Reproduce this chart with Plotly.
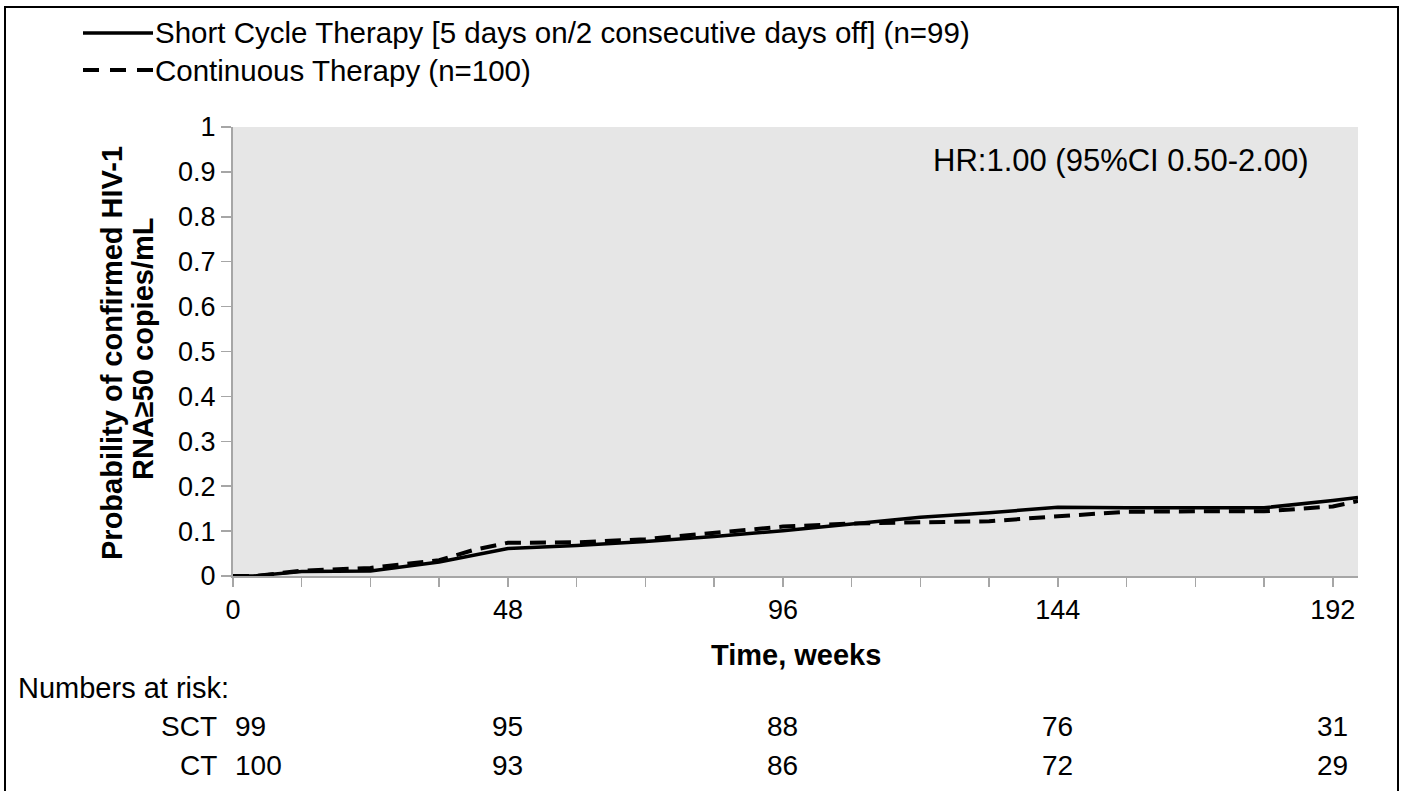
import plotly.graph_objects as go

# ---------------- data ----------------
sct_weeks = [0, 3.5, 12, 24, 36, 48, 60, 72, 84, 96, 108, 120, 132, 144, 156, 168, 180, 192, 196.4]
sct_prob = [0, 0, 0.010, 0.011, 0.031, 0.061, 0.068, 0.077, 0.088, 0.101, 0.116, 0.131, 0.141, 0.153, 0.152, 0.152, 0.152, 0.168, 0.175]

ct_weeks = [0, 4, 12, 24, 36, 42, 48, 60, 72, 84, 96, 108, 120, 132, 144, 156, 168, 180, 192, 196.4]
ct_prob = [0, 0, 0.012, 0.018, 0.035, 0.058, 0.074, 0.075, 0.082, 0.097, 0.110, 0.117, 0.120, 0.122, 0.133, 0.143, 0.144, 0.144, 0.155, 0.167]

risk_weeks = [0, 48, 96, 144, 192]
sct_risk = [99, 95, 88, 76, 31]
ct_risk = [100, 93, 86, 72, 29]

x_ticks = [0, 48, 96, 144, 192]
x_minor = [0, 12, 24, 36, 48, 60, 72, 84, 96, 108, 120, 132, 144, 156, 168, 180, 192]
y_ticks = [0, 0.1, 0.2, 0.3, 0.4, 0.5, 0.6, 0.7, 0.8, 0.9, 1]
y_ticktext = ["0", "0.1", "0.2", "0.3", "0.4", "0.5", "0.6", "0.7", "0.8", "0.9", "1"]

sct_name = "Short Cycle Therapy [5 days on/2 consecutive days off] (n=99)"
ct_name = "Continuous Therapy (n=100)"
hr_text = "HR:1.00 (95%CI 0.50-2.00)"
y_title_lines = ["Probability of confirmed HIV-1", "RNA≥50 copies/mL"]

# ---------------- layout geometry ----------------
W, H = 1403, 791
L, R, T, B = 233, 45, 127, 215
PW = W - L - R
PH = H - T - B
FONT = "Liberation Sans, Arial, Helvetica, sans-serif"


def px(xp):
    return (xp - L) / PW


def py(yp):
    return (H - B - yp) / PH


fig = go.Figure()

fig.add_trace(go.Scatter(x=sct_weeks, y=sct_prob, mode="lines", name=sct_name,
                         line=dict(color="black", width=3.5), showlegend=False))
fig.add_trace(go.Scatter(x=ct_weeks, y=ct_prob, mode="lines", name=ct_name,
                         line=dict(color="black", width=4, dash="16px,9px"), showlegend=False))

axis_gray = "#a6a6a6"
fig.update_xaxes(range=[0, 196.4], tickvals=x_minor,
                 ticktext=[str(v) if v in x_ticks else "" for v in x_minor],
                 ticks="outside", ticklen=9, tickwidth=1.5, tickcolor=axis_gray,
                 showline=True, linecolor=axis_gray, linewidth=2,
                 showgrid=False, zeroline=False,
                 tickfont=dict(family=FONT, size=27, color="black"))
fig.update_yaxes(range=[0, 1], tickvals=y_ticks, ticktext=y_ticktext,
                 ticks="outside", ticklen=10, tickwidth=1.5, tickcolor=axis_gray,
                 showline=True, linecolor=axis_gray, linewidth=2,
                 showgrid=False, zeroline=False,
                 tickfont=dict(family=FONT, size=27, color="black"))

annotations = []
# axis titles
annotations.append(dict(text="<b>Time, weeks</b>", xref="paper", yref="paper",
                        x=px(796), y=py(655), xanchor="center", yanchor="middle",
                        showarrow=False, font=dict(family=FONT, size=29, color="black")))
for line_txt, xc, yc in [(y_title_lines[0], 112, 353), (y_title_lines[1], 143, 349)]:
    annotations.append(dict(text="<b>" + line_txt + "</b>", xref="paper", yref="paper",
                            x=px(xc), y=py(yc), xanchor="center", yanchor="middle", textangle=-90,
                            showarrow=False, font=dict(family=FONT, size=29, color="black")))
# HR annotation
annotations.append(dict(text=hr_text, xref="paper", yref="paper",
                        x=px(1311), y=py(160), xanchor="right", yanchor="middle",
                        showarrow=False, font=dict(family=FONT, size=31, color="black")))
# legend text
annotations.append(dict(text=sct_name, xref="paper", yref="paper",
                        x=px(153), y=py(33), xanchor="left", yanchor="middle",
                        showarrow=False, font=dict(family=FONT, size=29.5, color="black")))
annotations.append(dict(text=ct_name, xref="paper", yref="paper",
                        x=px(153), y=py(70), xanchor="left", yanchor="middle",
                        showarrow=False, font=dict(family=FONT, size=29.5, color="black")))
# numbers at risk
annotations.append(dict(text="Numbers at risk:", xref="paper", yref="paper",
                        x=px(16), y=py(688), xanchor="left", yanchor="middle",
                        showarrow=False, font=dict(family=FONT, size=29, color="black")))
for label, vals, yrow in [("SCT", sct_risk, 726), ("CT", ct_risk, 765)]:
    annotations.append(dict(text=label, xref="paper", yref="paper",
                            x=px(219), y=py(yrow), xanchor="right", yanchor="middle",
                            showarrow=False, font=dict(family=FONT, size=28, color="black")))
    for wk, v in zip(risk_weeks, vals):
        annotations.append(dict(text=str(v), xref="x", yref="paper",
                                x=wk, y=py(yrow), xanchor="left" if wk == 0 else "center",
                                yanchor="middle", showarrow=False,
                                font=dict(family=FONT, size=28, color="black")))

shapes = [
    # outer frame
    dict(type="rect", xref="paper", yref="paper", x0=px(5), x1=px(1398), y0=py(800), y1=py(7),
         line=dict(color="black", width=2), fillcolor="rgba(0,0,0,0)", layer="above"),
    # legend samples
    dict(type="line", xref="paper", yref="paper", x0=px(83), x1=px(153), y0=py(33), y1=py(33),
         line=dict(color="black", width=3.5)),
    dict(type="line", xref="paper", yref="paper", x0=px(83), x1=px(153), y0=py(70), y1=py(70),
         line=dict(color="black", width=4, dash="16px,11px")),
]

fig.update_layout(width=W, height=H, margin=dict(l=L, r=R, t=T, b=B, autoexpand=False),
                  paper_bgcolor="white", plot_bgcolor="#e6e6e6",
                  showlegend=False, annotations=annotations, shapes=shapes,
                  font=dict(family=FONT, color="black"))

fig.write_html("out.html", config={"displayModeBar": False, "staticPlot": True},
               post_script="document.body.style.margin='0';document.body.style.overflow='hidden';")
